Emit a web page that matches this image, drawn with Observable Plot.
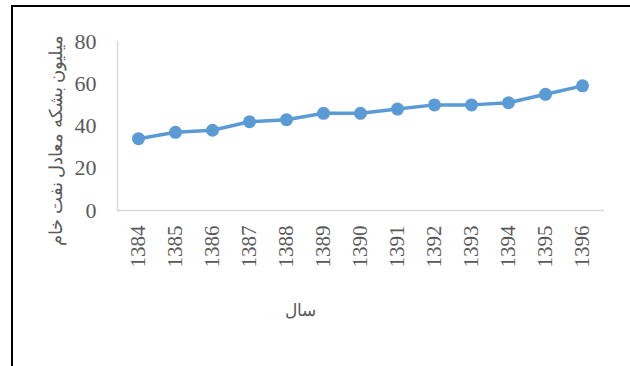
<!DOCTYPE html>
<html>
<head>
<meta charset="utf-8">
<script src="https://cdn.jsdelivr.net/npm/d3@7"></script>
<script src="https://cdn.jsdelivr.net/npm/@observablehq/plot@0.6"></script>
<style>
  html, body { margin: 0; padding: 0; background: #fff; }
  #wrap { position: relative; width: 630px; height: 366px; overflow: hidden; }
  #border { position: absolute; left: 11px; top: 5px; width: 620px; height: 370px;
            border-top: 2px solid #000; border-left: 2px solid #000; box-sizing: border-box; }
  #chart { position: absolute; left: 0; top: 0; }
  #chart svg text { font-family: "Liberation Serif", serif; }
  #chart svg text.arabic { font-family: "DejaVu Sans", sans-serif; }
</style>
</head>
<body>
<div id="wrap"><div id="chart"></div><div id="border"></div></div>
<script>
const years = ["1384","1385","1386","1387","1388","1389","1390","1391","1392","1393","1394","1395","1396"];
const values = [34, 37, 38, 42, 43, 46, 46, 48, 50, 50, 51, 55, 59];
const yTicks = [0, 20, 40, 60, 80];
const yLabel = "میلیون بشکه معادل نفت خام";
const xLabel = "سال";

const data = years.map((y, i) => ({year: y, value: values[i]}));
const serif = "Liberation Serif";

const chart = Plot.plot({
  width: 630,
  height: 366,
  marginLeft: 117,
  marginRight: 27,
  marginTop: 41,
  marginBottom: 156,
  style: {fontFamily: serif, fontSize: "21px", color: "#595959", background: "transparent"},
  x: {type: "point", domain: years, padding: 0.5},
  y: {domain: [0, 80]},
  marks: [
    Plot.axisY({ticks: yTicks, tickSize: 0, tickPadding: 21, label: null, fontSize: 22, fontFamily: serif, fill: "#595959"}),
    Plot.axisX({tickSize: 0, tickRotate: -90, tickPadding: 15, label: null, fontSize: 21, fontFamily: serif, fill: "#595959"}),
    Plot.frame({anchor: "left", stroke: "#d9d9d9", strokeWidth: 1.5}),
    Plot.frame({anchor: "bottom", stroke: "#d9d9d9", strokeWidth: 1.5}),
    Plot.line(data, {x: "year", y: "value", stroke: "#5B9BD5", strokeWidth: 3.5}),
    Plot.dot(data, {x: "year", y: "value", r: 6.5, fill: "#5B9BD5", stroke: "none"}),
    Plot.text([yLabel], {frameAnchor: "left", textAnchor: "middle", rotate: -90, dx: -61, dy: 14,
      fontFamily: "DejaVu Sans", fontSize: 18, fill: "#595959", className: "arabic"}),
    Plot.text([xLabel], {frameAnchor: "bottom", dx: -60, dy: 105,
      fontFamily: "DejaVu Sans", fontSize: 17, fill: "#595959", className: "arabic"})
  ]
});
chart.querySelectorAll("text").forEach(t => {
  if (!/[\u0600-\u06FF]/.test(t.textContent)) t.style.fontFamily = "'Liberation Serif', serif";
});
document.getElementById("chart").append(chart);
</script>
</body>
</html>
